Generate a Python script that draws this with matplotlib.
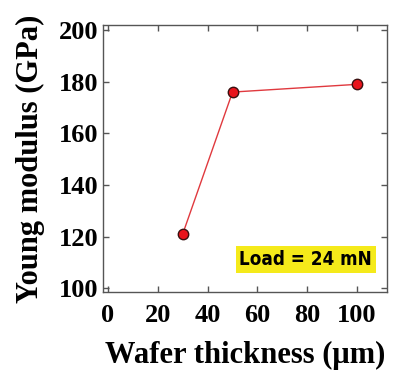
import matplotlib
matplotlib.use("Agg")
import matplotlib.pyplot as plt

thickness = [30, 50, 100]
modulus = [121, 176, 179]
xticks = [0, 20, 40, 60, 80, 100]
yticks = [100, 120, 140, 160, 180, 200]

fig = plt.figure(figsize=(3.93, 3.76), dpi=100)
ax = fig.add_axes([103/393, 1-292/376, (387-103)/393, (292-25)/376])
ax.plot(thickness, modulus, color="#e0393e", lw=1.0, marker="o", ms=7.5,
        mfc="#e8141c", mec="#3a1010", mew=1.0, zorder=3)
ax.set_xlim(-2, 112)
ax.set_ylim(98.5, 202)
ax.set_xticks(xticks)
ax.set_yticks(yticks)
ax.tick_params(direction="in", top=True, right=True, length=4, width=1,
               color="#555555", pad=3)
ax.tick_params(axis="x", pad=9)
for lab in ax.get_xticklabels() + ax.get_yticklabels():
    lab.set_fontfamily("Liberation Serif")
    lab.set_fontweight("bold")
    lab.set_fontsize(19)
for s in ax.spines.values():
    s.set_color("#555555")
    s.set_linewidth(1.0)
ax.set_xlabel("Wafer thickness (\u03bcm)", fontfamily="Liberation Serif",
              fontweight="bold", fontsize=22, labelpad=10)
ax.set_ylabel("Young modulus (GPa)", fontfamily="Liberation Serif",
              fontweight="bold", fontsize=22, labelpad=10)
ax.text(0.948, 0.122, "Load = 24 mN", transform=ax.transAxes, ha="right", va="center",
        fontfamily="DejaVu Sans", fontstretch="condensed", fontweight="bold", fontsize=13.5,
        bbox=dict(boxstyle="square,pad=0.2", fc="#f5ea1a", ec="none"))
fig.savefig("out.png", dpi=100)
